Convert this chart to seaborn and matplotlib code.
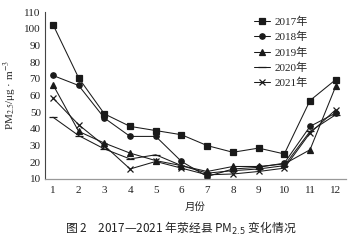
import matplotlib
matplotlib.use("Agg")
import matplotlib.pyplot as plt
import seaborn as sns
import pandas as pd

months = list(range(1, 13))
years = ["2017年", "2018年", "2019年", "2020年", "2021年"]
v2017 = [102.5, 70.5, 49, 41.5, 39, 36.5, 30, 26, 28.5, 25, 57, 69.5]
v2018 = [72, 66, 46.5, 35.5, 35.5, 20.5, 11.5, 16, 17, 19.5, 41.5, 49.5]
v2019 = [66.5, 38.5, 31.5, 25.5, 21, 18, 14.5, 17.5, 17.5, 19, 27.5, 65.5]
v2020 = [47, 36, 28, 22, 24.5, 18, 13.5, 15, 16, 18, 38.5, 48.5]
v2021 = [58.5, 42.5, 30, 16, 20.5, 16.5, 12.5, 13, 14.5, 16.5, 37.5, 51.5]
series = [v2017, v2018, v2019, v2020, v2021]
yticks = list(range(10, 111, 10))

rows = []
for y, vals in zip(years, series):
    for m, v in zip(months, vals):
        rows.append({"月份": m, "PM": v, "年": y})
df = pd.DataFrame(rows)

sns.set_theme(style="white")
plt.rcParams["font.family"] = ["Liberation Serif", "Noto Sans CJK SC"]

fig = plt.figure(figsize=(3.61, 2.40), dpi=100)
ax = fig.add_axes([45/361, 61/240, 301/361, 167/240])

markers = {"2017年": "s", "2018年": "o", "2019年": "^", "2020年": "_", "2021年": "x"}
sizes = {"2017年": 3.7, "2018年": 3.9, "2019年": 4.0, "2020年": 5.5, "2021年": 4.0}
for y in years:
    sub = df[df["年"] == y]
    sns.lineplot(data=sub, x="月份", y="PM", ax=ax, color="#1a1a1a", lw=0.75,
                 marker=markers[y], markersize=sizes[y], markeredgewidth=0.9,
                 markeredgecolor="#1a1a1a", label=y, legend=True)

ax.set_xlim(0.69, 12.4)
ax.set_ylim(10, 110)
ax.set_xticks(months)
ax.set_yticks(yticks)
ax.tick_params(axis="both", labelsize=8, colors="#222222", length=0)
ax.tick_params(axis="x", pad=5)
ax.tick_params(axis="y", direction="in", length=2, pad=3)
for s in ["top", "right"]:
    ax.spines[s].set_visible(False)
ax.spines["left"].set_color("#444444")
ax.spines["bottom"].set_color("#999999")
ax.spines["left"].set_linewidth(0.8)
ax.spines["bottom"].set_linewidth(0.9)

ax.set_xlabel("月份", fontsize=7.5, family=["Noto Sans CJK SC"], labelpad=5)
ax.set_ylabel(r"PM$_{2.5}$/μg · m$^{-3}$", fontsize=8, math_fontfamily="stix", labelpad=4)

leg = ax.legend(loc="upper left", bbox_to_anchor=(0.68, 1.0), frameon=False,
                fontsize=8, handlelength=1.4, handletextpad=0.4,
                labelspacing=0.45, borderaxespad=0)

fig.text(0.5, 0.05, "图 2　2017—2021 年荥经县 PM$_{2.5}$ 变化情况",
         ha="center", va="center", fontsize=8.5, family=["Noto Sans CJK SC", "DejaVu Sans"],
         math_fontfamily="dejavusans", color="#222222")

fig.savefig("out.png", dpi=100)
